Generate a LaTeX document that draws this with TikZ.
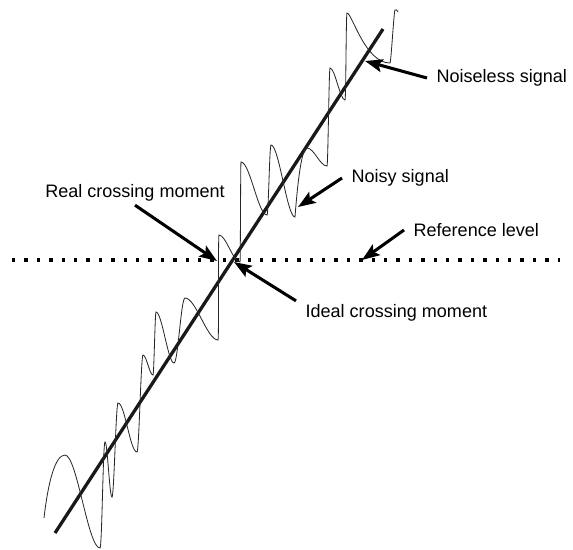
\documentclass[tikz,border=0pt]{standalone}
\usepackage{fontspec}
\setmainfont{Liberation Sans}
\usetikzlibrary{arrows.meta, positioning}

\begin{document}
\begin{tikzpicture}[
  x=0.03cm, y=-0.03cm,
  >=Stealth,
  noiseless/.style={line width=2.8pt, black!90},
  noisy/.style={line width=0.7pt, black!85},
  refline/.style={line width=2.8pt, dash pattern=on 0.1cm off 0.272cm},
  pointer/.style={line width=2.6pt, -{Stealth[length=15pt, width=11pt, inset=3pt]}},
  label/.style={font=\fontsize{15.4pt}{18pt}\selectfont, inner xsep=8pt, inner ysep=3pt}
]
\useasboundingbox (0,0) rectangle (573,549);

% Reference level
\coordinate (refL) at (12,260);
\coordinate (refR) at (560,260);
\draw[refline] (refL) -- (refR);

% Noiseless signal
\coordinate (lineStart) at (55,533);
\coordinate (lineEnd) at (383,29);
\draw[noiseless] (lineStart) -- (lineEnd);

% Noisy signal
\draw[noisy] (44,518)
  .. controls +(4,-35) and +(-10,0) .. (65,455)
  .. controls +(12,0) and +(-12,0) .. (100,548)
  .. controls +(2,0) and +(-2,0) .. (105,442)
  .. controls +(2.5,0) and +(-2.5,0) .. (112,497)
  .. controls +(2,0) and +(-2,0) .. (118,403)
  .. controls +(7,0) and +(-7,0) .. (137,452)
  .. controls +(2,0) and +(-2,0) .. (143,355)
  .. controls +(3.5,0) and +(-3.5,0) .. (153,375)
  .. controls +(1,0) and +(-1,0) .. (156,312)
  .. controls +(6,0) and +(-6,0) .. (174,363)
  .. controls +(4,0) and +(-4,0) .. (185,298)
  .. controls +(11,0) and +(-11,0) .. (218,340)
  .. controls +(1,0) and +(-1,0) .. (219,235)
  .. controls +(7,0) and +(-7,0) .. (240,262)
  .. controls +(0.5,0) and +(-0.5,0) .. (241,162)
  .. controls +(9,0) and +(-9,0) .. (267,215)
  .. controls +(1.5,0) and +(-1.5,0) .. (271,145)
  .. controls +(8,0) and +(-8,0) .. (295,217)
  .. controls +(3,-40) and +(-5,0) .. (307,148)
  .. controls +(7,0) and +(-7,0) .. (327,166)
  .. controls +(1,0) and +(-1,0) .. (330,68)
  .. controls +(5,0) and +(-5,0) .. (345,100)
  .. controls +(1,0) and +(-1,0) .. (347,13)
  .. controls +(5,0) and +(-25,0) .. (390,63)
  .. controls +(1,0) and +(-1,0) .. (395,10)
  .. controls +(1,-2) and +(-1,-1) .. (398,12);

% Labels
\node[label, anchor=west] (noiselessLbl) at (427,78) {Noiseless signal};
\node[label, anchor=west] (noisyLbl) at (342,178) {Noisy signal};
\node[label, anchor=west] (refLbl) at (404,230) {Reference level};
\node[label] (realLbl) at (135,193) {Real crossing moment};
\node[label, anchor=west] (idealLbl) at (296,313) {Ideal crossing moment};

% Arrow tips
\coordinate (noiselessTip) at (365,61);
\coordinate (noisyTip) at (298,207);
\coordinate (refTip) at (362,260);
\coordinate (realTip) at (217,261);
\coordinate (idealTip) at (234,262);

\draw[pointer] (noiselessLbl.west) -- (noiselessTip);
\draw[pointer] (noisyLbl.west) -- (noisyTip);
\draw[pointer] (refLbl.west) -- (refTip);
\draw[pointer] (realLbl.south) -- (realTip);
\draw[pointer] (idealLbl.north west) -- (idealTip);

\end{tikzpicture}
\end{document}
